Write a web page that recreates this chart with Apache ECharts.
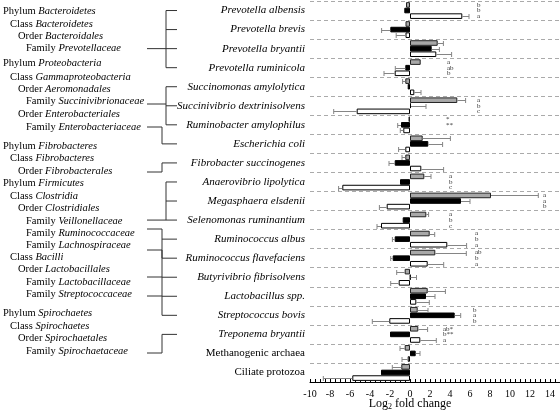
<!DOCTYPE html>
<html><head><meta charset="utf-8">
<script src="https://cdn.jsdelivr.net/npm/echarts@6/dist/echarts.min.js"></script>
<style>html,body{margin:0;padding:0;background:#fff}#c{width:560px;height:412px}</style>
</head><body><div id="c"></div>
<script>
// ---------------- data ----------------
const categories = [
  'Prevotella albensis','Prevotella brevis','Prevotella bryantii','Prevotella ruminicola',
  'Succinomonas amylolytica','Succinivibrio dextrinisolvens','Ruminobacter amylophilus','Escherichia coli',
  'Fibrobacter succinogenes','Anaerovibrio lipolytica','Megasphaera elsdenii','Selenomonas ruminantium',
  'Ruminococcus albus','Ruminococcus flavefaciens','Butyrivibrio fibrisolvens','Lactobacillus spp.',
  'Streptococcus bovis','Treponema bryantii','Methanogenic archaea','Ciliate protozoa'
];
const nonItalic = ['Methanogenic archaea','Ciliate protozoa'];
const grayVals  = [-0.4,-0.45,2.77,1.07,-0.47,4.73,-0.15,1.27,-0.47,1.43,8.1,1.63,1.97,2.53,-0.53,1.77,0.77,0.83,-0.53,-0.87];
const grayErr   = [0,0,0.57,0,0.27,0.83,0,2.77,0.33,0.67,4.73,0.23,0.5,3.1,0.8,1.77,1.03,0.93,0.47,0.9];
const blackVals = [-0.57,-1.97,2.17,-0.47,-0.23,0.1,-0.9,1.83,-1.53,-1.0,5.1,-0.73,-1.53,-1.73,0.05,1.6,4.47,-2.0,0.57,-2.9];
const blackErr  = [0,0.87,0.77,1.0,0,1.5,0.33,1.43,0.57,0,0.9,0,0.23,0.2,0.6,0.9,0.6,0,0.43,0];
const whiteVals = [5.23,-0.45,2.63,-1.53,0.43,-5.33,-0.67,-0.47,1.13,-6.77,-2.33,-2.9,3.73,1.77,-1.13,0.63,-2.07,1.03,-0.23,-5.77];
const whiteErr  = [0.67,0.93,1.53,1.07,0.67,2.3,0.3,0.67,2.23,0.37,0.73,0.4,1.93,1.6,0.8,1.3,1.7,1.6,0.57,2.9];
const sigGray   = ['b','','','a','','a','*','','','a','a','a','a','ab','','','b','ab*','',''];
const sigBlack  = ['b','','','ab','','b','**','','','b','a','b','b','b','','','a','b**','',''];
const sigWhite  = ['a','','','b','','c','','','','c','b','c','a','a','','','b','a','',''];
const sigLabelX = [6.7,null,null,3.7,null,6.7,3.6,null,null,3.9,13.3,3.9,6.5,6.5,null,null,6.3,3.3,null,null];
const xTickLabels = [-10,-8,-6,-4,-2,0,2,4,6,8,10,12,14];
const taxonomy = [
  [0,'Phylum','Bacteroidetes',11.5],[1,'Class','Bacteroidetes',24],[2,'Order','Bacteroidales',36],[3,'Family','Prevotellaceae',48],
  [0,'Phylum','Proteobacteria',63.5],[1,'Class','Gammaproteobacteria',77],[2,'Order','Aeromonadales',89.5],[3,'Family','Succinivibrionaceae',101.5],
  [2,'Order','Enterobacteriales',114],[3,'Family','Enterobacteriaceae',127],
  [0,'Phylum','Fibrobacteres',146],[1,'Class','Fibrobacteres',158],[2,'Order','Fibrobacterales',171],
  [0,'Phylum','Firmicutes',183.5],[1,'Class','Clostridia',196],[2,'Order','Clostridiales',208.5],[3,'Family','Veillonellaceae',221],
  [3,'Family','Ruminococcaceae',233],[3,'Family','Lachnospiraceae',245],[1,'Class','Bacilli',257.5],[2,'Order','Lactobacillales',269.5],
  [3,'Family','Lactobacillaceae',282],[3,'Family','Streptococcaceae',294.5],
  [0,'Phylum','Spirochaetes',313.5],[1,'Class','Spirochaetes',326],[2,'Order','Spirochaetales',338.5],[3,'Family','Spirochaetaceae',351]
];

// ---------------- layout / style ----------------
const F = '"Liberation Serif","Times New Roman",serif';
const BW = 5.6;
const GRID_TOP = 1, ROW_H = 381/20;
const rc = i => GRID_TOP + ROW_H*(i+0.5);
const indentX = [3,10,18,26];
const LC = '#333';

function errSeries(vals, errs, idx){
  return {
    type:'custom', z:5, silent:true,
    data: vals.map((v,i)=>[v,i,errs[i]]),
    encode:{x:0,y:1},
    renderItem(params, api){
      const v = api.value(0), c = api.value(1), e = api.value(2);
      if(!e) return null;
      const end = v + (v>=0?1:-1)*e;
      const p0 = api.coord([v,c]), p1 = api.coord([end,c]);
      const y = Math.round(p0[1] + (idx-1)*BW) + 0.5;
      const st = {stroke:'#858585', lineWidth:1};
      return {type:'group', children:[
        {type:'line', shape:{x1:p0[0],y1:y,x2:p1[0],y2:y}, style:st},
        {type:'line', shape:{x1:p1[0],y1:y-2.5,x2:p1[0],y2:y+2.5}, style:st}
      ]};
    }
  };
}

const graphics = [];
taxonomy.forEach(([lvl, rank, name, y])=>{
  graphics.push({type:'text', x:indentX[lvl], y:y, silent:true, style:{
    text:'{n|'+rank+' }{i|'+name+'}', verticalAlign:'middle', align:'left',
    rich:{n:{fontFamily:F,fontSize:10.5,fill:'#000'}, i:{fontFamily:F,fontSize:10.5,fontStyle:'italic',fill:'#000'}}
  }});
});
function pl(points){ graphics.push({type:'polyline', silent:true, shape:{points:points}, style:{stroke:LC, lineWidth:1, fill:null}}); }
// bracket A
pl([[166,rc(0)],[166,rc(3)]]); [0,1,3].forEach(i=>pl([[166,rc(i)],[177,rc(i)]])); pl([[147,rc(2)],[177,rc(2)]]);
// bracket B
pl([[166,rc(4)],[166,rc(6)]]); [4,5,6].forEach(i=>pl([[166,rc(i)],[177,rc(i)]])); pl([[147,104],[166,104]]);
// bracket C
pl([[147,127],[162,127],[162,rc(7)],[177,rc(7)]]);
// bracket D
pl([[147,172],[162,172],[162,rc(8)],[177,rc(8)]]);
// bracket E
pl([[166,rc(9)],[166,rc(11)]]); [9,10].forEach(i=>pl([[166,rc(i)],[177,rc(i)]])); pl([[147,rc(11)],[177,rc(11)]]);
// bracket F
pl([[147,229],[162,229],[162,rc(13)]]); [12,13].forEach(i=>pl([[162,rc(i)],[177,rc(i)]]));
// bracket G
pl([[162,250],[162,rc(16)]]); [250,277,296].forEach(y=>pl([[147,y],[162,y]])); [14,15,16].forEach(i=>pl([[162,rc(i)],[177,rc(i)]]));
// bracket H
pl([[177,rc(17)],[162,rc(17)],[162,353],[147,353]]);

const chart = echarts.init(document.getElementById('c'), null, {renderer:'canvas'});
chart.setOption({
  animation:false,
  backgroundColor:'#fff',
  grid:{left:310, right:0, top:GRID_TOP, bottom:30, containLabel:false, outerBoundsMode:'none'},
  xAxis:{
    type:'value', min:-10, max:15, interval:2,
    axisLine:{show:true, onZero:false, lineStyle:{color:'#000', width:1}},
    axisTick:{show:true, inside:true, length:3, lineStyle:{color:'#000'}},
    minorTick:{show:true, splitNumber:4, length:3, lineStyle:{color:'#000'}},
    splitLine:{show:false},
    axisLabel:{fontFamily:F, fontSize:10, color:'#000', margin:7,
      formatter: v => xTickLabels.includes(v) ? String(v) : ''},
    name:'{m|Log}{s|2}{m| fold change}', nameLocation:'middle', nameGap:16, nameMoveOverlap:false,
    nameTextStyle:{fontFamily:F, fontSize:12, color:'#000', padding:[0,50,0,0],
      rich:{m:{fontFamily:F, fontSize:12, color:'#000', lineHeight:13, verticalAlign:'top'},
            s:{fontFamily:F, fontSize:8, color:'#000', lineHeight:13, verticalAlign:'bottom'}}}
  },
  yAxis:{
    type:'category', inverse:true, data:categories,
    axisLine:{show:false}, axisTick:{show:false},
    splitLine:{show:true, interval:0, lineStyle:{color:'#aaa', type:[4,3], width:1}},
    axisLabel:{interval:0, margin:5, formatter: v => nonItalic.includes(v) ? '{n|'+v+'}' : '{i|'+v+'}',
      rich:{n:{fontFamily:F,fontSize:11,color:'#000'}, i:{fontFamily:F,fontSize:11,fontStyle:'italic',color:'#000'}}}
  },
  series:[
    {type:'bar', data:grayVals, barWidth:BW, barGap:'0%', itemStyle:{color:'#a8a8a8', borderColor:'#222', borderWidth:1}},
    {type:'bar', data:blackVals, barWidth:BW, barGap:'0%', itemStyle:{color:'#000', borderColor:'#000', borderWidth:1}},
    {type:'bar', data:whiteVals, barWidth:BW, barGap:'0%', itemStyle:{color:'#fff', borderColor:'#000', borderWidth:1}},
    errSeries(grayVals, grayErr, 0),
    errSeries(blackVals, blackErr, 1),
    errSeries(whiteVals, whiteErr, 2),
    {
      type:'custom', z:6, silent:true,
      data: categories.map((c,i)=>[sigLabelX[i]==null?0:sigLabelX[i], i]),
      encode:{x:0,y:1},
      renderItem(params, api){
        const i = params.dataIndex;
        if(sigLabelX[i]==null) return null;
        const p = api.coord([sigLabelX[i], i]);
        const texts = [sigGray[i], sigBlack[i], sigWhite[i]];
        return {type:'group', children: texts.map((t,k)=>({type:'text', x:p[0], y:p[1]+(k-1)*BW,
          style:{text:t, fontFamily:F, fontSize:7, fill:'#333', align:'left', verticalAlign:'middle'}}))};
      }
    }
  ],
  graphic: graphics
});
</script>
</body></html>
